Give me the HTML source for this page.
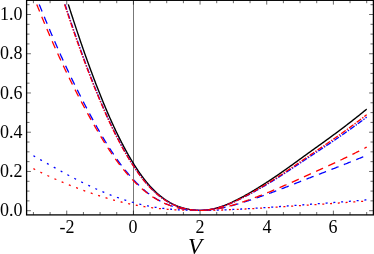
<!DOCTYPE html><html><head><meta charset="utf-8"><style>html,body{margin:0;padding:0;background:#fff}body{width:374px;height:254px;overflow:hidden;position:relative;font-family:"Liberation Serif",serif}svg{position:absolute;left:0;top:0}.t{position:absolute;will-change:transform;font-size:18px;line-height:18px;color:#000;white-space:nowrap}</style></head><body>
<svg width="374" height="254" viewBox="0 0 374 254" fill="none">
<line x1="133.50" y1="0.3" x2="133.50" y2="214.9" stroke="#777" stroke-width="1"/>
<path d="M68.33,4.39 L68.82,5.96 L69.32,7.53 L69.82,9.09 L70.32,10.64 L70.82,12.19 L71.31,13.73 L71.81,15.27 L72.31,16.80 L72.81,18.33 L73.31,19.86 L73.80,21.37 L74.30,22.89 L74.80,24.40 L75.30,25.90 L75.80,27.40 L76.30,28.90 L76.79,30.39 L77.29,31.87 L77.79,33.36 L78.29,34.84 L78.79,36.31 L79.28,37.78 L79.78,39.24 L80.28,40.70 L80.78,42.16 L81.28,43.61 L81.78,45.06 L82.27,46.50 L82.77,47.93 L83.27,49.36 L83.77,50.79 L84.27,52.21 L84.76,53.62 L85.26,55.03 L85.76,56.43 L86.26,57.83 L86.76,59.23 L87.25,60.61 L87.75,61.99 L88.25,63.37 L88.75,64.74 L89.25,66.11 L89.75,67.47 L90.24,68.82 L90.74,70.17 L91.24,71.51 L91.74,72.85 L92.24,74.19 L92.73,75.52 L93.23,76.84 L93.73,78.16 L94.23,79.47 L94.73,80.78 L95.22,82.08 L95.72,83.38 L96.22,84.67 L96.72,85.96 L97.22,87.24 L97.72,88.52 L98.21,89.79 L98.71,91.06 L99.21,92.32 L99.71,93.57 L100.21,94.82 L100.70,96.07 L101.20,97.31 L101.70,98.54 L102.20,99.77 L102.70,100.99 L103.20,102.21 L103.69,103.42 L104.19,104.62 L104.69,105.82 L105.19,107.01 L105.69,108.19 L106.18,109.37 L106.68,110.54 L107.18,111.70 L107.68,112.86 L108.18,114.01 L108.67,115.15 L109.17,116.29 L109.67,117.42 L110.17,118.54 L110.67,119.66 L111.17,120.77 L111.66,121.87 L112.16,122.97 L112.66,124.06 L113.16,125.14 L113.66,126.21 L114.15,127.28 L114.65,128.35 L115.15,129.40 L115.65,130.45 L116.15,131.49 L116.64,132.53 L117.14,133.56 L117.64,134.58 L118.14,135.60 L118.64,136.61 L119.14,137.61 L119.63,138.60 L120.13,139.59 L120.63,140.58 L121.13,141.55 L121.63,142.52 L122.12,143.48 L122.62,144.44 L123.12,145.39 L123.62,146.33 L124.12,147.26 L124.62,148.19 L125.11,149.11 L125.61,150.03 L126.11,150.94 L126.61,151.84 L127.11,152.73 L127.60,153.62 L128.10,154.50 L128.60,155.38 L129.10,156.24 L129.60,157.10 L130.09,157.96 L130.59,158.80 L131.09,159.64 L131.59,160.48 L132.09,161.30 L132.59,162.12 L133.08,162.93 L133.58,163.74 L134.08,164.54 L134.58,165.33 L135.08,166.11 L135.57,166.89 L136.07,167.66 L136.57,168.43 L137.07,169.18 L137.57,169.93 L138.06,170.67 L138.56,171.41 L139.06,172.13 L139.56,172.85 L140.06,173.56 L140.56,174.27 L141.05,174.96 L141.55,175.65 L142.05,176.33 L142.55,177.01 L143.05,177.67 L143.54,178.33 L144.04,178.98 L144.54,179.62 L145.04,180.25 L145.54,180.88 L146.03,181.50 L146.53,182.11 L147.03,182.71 L147.53,183.30 L148.03,183.89 L148.53,184.47 L149.02,185.04 L149.52,185.60 L150.02,186.16 L150.52,186.71 L151.02,187.25 L151.51,187.78 L152.01,188.31 L152.51,188.82 L153.01,189.33 L153.51,189.84 L154.01,190.33 L154.50,190.82 L155.00,191.30 L155.50,191.77 L156.00,192.24 L156.50,192.70 L156.99,193.15 L157.49,193.59 L157.99,194.03 L158.49,194.46 L158.99,194.89 L159.48,195.30 L159.98,195.71 L160.48,196.11 L160.98,196.51 L161.48,196.90 L161.98,197.28 L162.47,197.66 L162.97,198.03 L163.47,198.39 L163.97,198.75 L164.47,199.09 L164.96,199.44 L165.46,199.77 L165.96,200.11 L166.46,200.43 L166.96,200.75 L167.45,201.06 L167.95,201.37 L168.45,201.67 L168.95,201.96 L169.45,202.25 L169.95,202.53 L170.44,202.81 L170.94,203.08 L171.44,203.34 L171.94,203.60 L172.44,203.86 L172.93,204.10 L173.43,204.35 L173.93,204.58 L174.43,204.82 L174.93,205.04 L175.43,205.26 L175.92,205.48 L176.42,205.69 L176.92,205.90 L177.42,206.10 L177.92,206.29 L178.41,206.49 L178.91,206.67 L179.41,206.85 L179.91,207.03 L180.41,207.20 L180.90,207.37 L181.40,207.53 L181.90,207.69 L182.40,207.84 L182.90,207.99 L183.40,208.13 L183.89,208.27 L184.39,208.40 L184.89,208.53 L185.39,208.66 L185.89,208.78 L186.38,208.89 L186.88,209.00 L187.38,209.11 L187.88,209.21 L188.38,209.31 L188.87,209.41 L189.37,209.49 L189.87,209.58 L190.37,209.66 L190.87,209.74 L191.37,209.81 L191.86,209.88 L192.36,209.94 L192.86,210.00 L193.36,210.06 L193.86,210.11 L194.35,210.16 L194.85,210.20 L195.35,210.24 L195.85,210.27 L196.35,210.30 L196.85,210.33 L197.34,210.35 L197.84,210.37 L198.34,210.38 L198.84,210.39 L199.34,210.40 L199.83,210.40 L200.33,210.40 L200.83,210.39 L201.33,210.38 L201.83,210.36 L202.32,210.34 L202.82,210.32 L203.32,210.29 L203.82,210.26 L204.32,210.22 L204.82,210.18 L205.31,210.14 L205.81,210.09 L206.31,210.04 L206.81,209.98 L207.31,209.92 L207.80,209.85 L208.30,209.78 L208.80,209.71 L209.30,209.63 L209.80,209.55 L210.29,209.47 L210.79,209.38 L211.29,209.28 L211.79,209.19 L212.29,209.08 L212.79,208.98 L213.28,208.87 L213.78,208.76 L214.28,208.64 L214.78,208.52 L215.28,208.39 L215.77,208.27 L216.27,208.13 L216.77,208.00 L217.27,207.86 L217.77,207.71 L218.26,207.57 L218.76,207.42 L219.26,207.26 L219.76,207.11 L220.26,206.95 L220.76,206.78 L221.25,206.61 L221.75,206.44 L222.25,206.27 L222.75,206.09 L223.25,205.91 L223.74,205.73 L224.24,205.54 L224.74,205.35 L225.24,205.16 L225.74,204.96 L226.24,204.76 L226.73,204.56 L227.23,204.35 L227.73,204.15 L228.23,203.94 L228.73,203.72 L229.22,203.51 L229.72,203.29 L230.22,203.07 L230.72,202.85 L231.22,202.62 L231.71,202.39 L232.21,202.17 L232.71,201.93 L233.21,201.70 L233.71,201.46 L234.21,201.22 L234.70,200.98 L235.20,200.74 L235.70,200.49 L236.20,200.25 L236.70,200.00 L237.19,199.75 L237.69,199.49 L238.19,199.24 L238.69,198.98 L239.19,198.72 L239.68,198.46 L240.18,198.20 L240.68,197.93 L241.18,197.67 L241.68,197.40 L242.18,197.13 L242.67,196.86 L243.17,196.59 L243.67,196.31 L244.17,196.04 L244.67,195.76 L245.16,195.48 L245.66,195.20 L246.16,194.92 L246.66,194.63 L247.16,194.35 L247.66,194.06 L248.15,193.78 L248.65,193.49 L249.15,193.20 L249.65,192.91 L250.15,192.62 L250.64,192.32 L251.14,192.03 L251.64,191.73 L252.14,191.44 L252.64,191.14 L253.13,190.84 L253.63,190.54 L254.13,190.24 L254.63,189.94 L255.13,189.64 L255.63,189.33 L256.12,189.03 L256.62,188.73 L257.12,188.42 L257.62,188.11 L258.12,187.81 L258.61,187.50 L259.11,187.19 L259.61,186.88 L260.11,186.57 L260.61,186.26 L261.10,185.95 L261.60,185.63 L262.10,185.32 L262.60,185.00 L263.10,184.69 L263.60,184.37 L264.09,184.05 L264.59,183.74 L265.09,183.42 L265.59,183.10 L266.09,182.78 L266.58,182.45 L267.08,182.13 L267.58,181.81 L268.08,181.48 L268.58,181.16 L269.07,180.83 L269.57,180.50 L270.07,180.18 L270.57,179.85 L271.07,179.52 L271.57,179.19 L272.06,178.85 L272.56,178.52 L273.06,178.19 L273.56,177.85 L274.06,177.51 L274.55,177.18 L275.05,176.84 L275.55,176.50 L276.05,176.16 L276.55,175.82 L277.05,175.48 L277.54,175.14 L278.04,174.80 L278.54,174.45 L279.04,174.11 L279.54,173.76 L280.03,173.42 L280.53,173.07 L281.03,172.73 L281.53,172.38 L282.03,172.03 L282.52,171.68 L283.02,171.33 L283.52,170.98 L284.02,170.63 L284.52,170.28 L285.02,169.93 L285.51,169.57 L286.01,169.22 L286.51,168.87 L287.01,168.51 L287.51,168.16 L288.00,167.80 L288.50,167.45 L289.00,167.09 L289.50,166.74 L290.00,166.38 L290.49,166.02 L290.99,165.67 L291.49,165.31 L291.99,164.95 L292.49,164.59 L292.99,164.23 L293.48,163.87 L293.98,163.51 L294.48,163.15 L294.98,162.79 L295.48,162.43 L295.97,162.07 L296.47,161.71 L296.97,161.35 L297.47,160.99 L297.97,160.63 L298.47,160.27 L298.96,159.91 L299.46,159.55 L299.96,159.19 L300.46,158.82 L300.96,158.46 L301.45,158.10 L301.95,157.74 L302.45,157.38 L302.95,157.02 L303.45,156.65 L303.94,156.29 L304.44,155.93 L304.94,155.57 L305.44,155.21 L305.94,154.85 L306.44,154.49 L306.93,154.13 L307.43,153.77 L307.93,153.40 L308.43,153.04 L308.93,152.68 L309.42,152.32 L309.92,151.96 L310.42,151.60 L310.92,151.25 L311.42,150.89 L311.91,150.53 L312.41,150.17 L312.91,149.81 L313.41,149.45 L313.91,149.10 L314.41,148.74 L314.90,148.38 L315.40,148.02 L315.90,147.67 L316.40,147.31 L316.90,146.95 L317.39,146.60 L317.89,146.24 L318.39,145.88 L318.89,145.53 L319.39,145.17 L319.89,144.81 L320.38,144.46 L320.88,144.10 L321.38,143.74 L321.88,143.38 L322.38,143.03 L322.87,142.67 L323.37,142.31 L323.87,141.95 L324.37,141.59 L324.87,141.23 L325.36,140.87 L325.86,140.51 L326.36,140.15 L326.86,139.79 L327.36,139.42 L327.86,139.06 L328.35,138.70 L328.85,138.34 L329.35,137.97 L329.85,137.61 L330.35,137.24 L330.84,136.88 L331.34,136.51 L331.84,136.15 L332.34,135.78 L332.84,135.41 L333.33,135.04 L333.83,134.68 L334.33,134.31 L334.83,133.94 L335.33,133.57 L335.83,133.20 L336.32,132.83 L336.82,132.46 L337.32,132.09 L337.82,131.72 L338.32,131.34 L338.81,130.97 L339.31,130.60 L339.81,130.22 L340.31,129.85 L340.81,129.47 L341.30,129.10 L341.80,128.72 L342.30,128.34 L342.80,127.97 L343.30,127.59 L343.80,127.21 L344.29,126.83 L344.79,126.45 L345.29,126.07 L345.79,125.69 L346.29,125.31 L346.78,124.93 L347.28,124.55 L347.78,124.16 L348.28,123.78 L348.78,123.40 L349.28,123.01 L349.77,122.63 L350.27,122.24 L350.77,121.85 L351.27,121.47 L351.77,121.08 L352.26,120.69 L352.76,120.30 L353.26,119.91 L353.76,119.52 L354.26,119.13 L354.75,118.74 L355.25,118.35 L355.75,117.95 L356.25,117.56 L356.75,117.17 L357.25,116.77 L357.74,116.38 L358.24,115.98 L358.74,115.58 L359.24,115.18 L359.74,114.79 L360.23,114.39 L360.73,113.99 L361.23,113.58 L361.73,113.18 L362.23,112.78 L362.72,112.38 L363.22,111.97 L363.72,111.57 L364.22,111.16 L364.72,110.76 L365.22,110.35 L365.71,109.94 L366.21,109.53 L366.71,109.12" stroke="#000" stroke-width="1.4"/>
<path d="M33.41,155.73 L33.97,156.05 L34.52,156.37 L35.08,156.69 L35.64,157.01 L36.19,157.33 L36.75,157.65 L37.30,157.97 L37.86,158.29 L38.42,158.60 L38.97,158.92 L39.53,159.23 L40.09,159.55 L40.64,159.86 L41.20,160.18 L41.76,160.49 L42.31,160.81 L42.87,161.12 L43.43,161.43 L43.98,161.74 L44.54,162.06 L45.09,162.37 L45.65,162.68 L46.21,162.99 L46.76,163.30 L47.32,163.61 L47.88,163.92 L48.43,164.23 L48.99,164.54 L49.55,164.85 L50.10,165.16 L50.66,165.47 L51.22,165.77 L51.77,166.08 L52.33,166.39 L52.88,166.70 L53.44,167.00 L54.00,167.31 L54.55,167.62 L55.11,167.93 L55.67,168.23 L56.22,168.54 L56.78,168.85 L57.34,169.15 L57.89,169.46 L58.45,169.76 L59.01,170.07 L59.56,170.38 L60.12,170.68 L60.67,170.99 L61.23,171.29 L61.79,171.60 L62.34,171.90 L62.90,172.21 L63.46,172.51 L64.01,172.82 L64.57,173.12 L65.13,173.43 L65.68,173.73 L66.24,174.04 L66.80,174.34 L67.35,174.64 L67.91,174.95 L68.46,175.25 L69.02,175.55 L69.58,175.85 L70.13,176.15 L70.69,176.44 L71.25,176.74 L71.80,177.03 L72.36,177.33 L72.92,177.62 L73.47,177.91 L74.03,178.20 L74.59,178.49 L75.14,178.78 L75.70,179.07 L76.25,179.36 L76.81,179.64 L77.37,179.93 L77.92,180.21 L78.48,180.50 L79.04,180.78 L79.59,181.06 L80.15,181.34 L80.71,181.62 L81.26,181.90 L81.82,182.18 L82.38,182.46 L82.93,182.73 L83.49,183.01 L84.04,183.28 L84.60,183.56 L85.16,183.83 L85.71,184.10 L86.27,184.37 L86.83,184.64 L87.38,184.90 L87.94,185.17 L88.50,185.43 L89.05,185.70 L89.61,185.96 L90.17,186.22 L90.72,186.48 L91.28,186.74 L91.83,187.00 L92.39,187.25 L92.95,187.51 L93.50,187.76 L94.06,188.02 L94.62,188.27 L95.17,188.52 L95.73,188.77 L96.29,189.02 L96.84,189.27 L97.40,189.51 L97.96,189.76 L98.51,190.00 L99.07,190.25 L99.62,190.49 L100.18,190.73 L100.74,190.97 L101.29,191.21 L101.85,191.45 L102.41,191.68 L102.96,191.92 L103.52,192.15 L104.08,192.38 L104.63,192.61 L105.19,192.84 L105.75,193.07 L106.30,193.29 L106.86,193.52 L107.41,193.74 L107.97,193.96 L108.53,194.18 L109.08,194.40 L109.64,194.62 L110.20,194.84 L110.75,195.05 L111.31,195.26 L111.87,195.47 L112.42,195.68 L112.98,195.89 L113.54,196.10 L114.09,196.30 L114.65,196.51 L115.20,196.71 L115.76,196.91 L116.32,197.11 L116.87,197.31 L117.43,197.51 L117.99,197.70 L118.54,197.89 L119.10,198.09 L119.66,198.28 L120.21,198.47 L120.77,198.65 L121.33,198.84 L121.88,199.02 L122.44,199.21 L122.99,199.39 L123.55,199.57 L124.11,199.75 L124.66,199.93 L125.22,200.10 L125.78,200.28 L126.33,200.45 L126.89,200.62 L127.45,200.79 L128.00,200.96 L128.56,201.12 L129.12,201.29 L129.67,201.45 L130.23,201.62 L130.78,201.78 L131.34,201.94 L131.90,202.09 L132.45,202.25 L133.01,202.40 L133.57,202.56 L134.12,202.71 L134.68,202.86 L135.24,203.01 L135.79,203.16 L136.35,203.30 L136.91,203.44 L137.46,203.59 L138.02,203.73 L138.57,203.87 L139.13,204.01 L139.69,204.14 L140.24,204.28 L140.80,204.41 L141.36,204.54 L141.91,204.67 L142.47,204.80 L143.03,204.92 L143.58,205.05 L144.14,205.17 L144.70,205.29 L145.25,205.41 L145.81,205.53 L146.36,205.64 L146.92,205.76 L147.48,205.87 L148.03,205.98 L148.59,206.09 L149.15,206.20 L149.70,206.30 L150.26,206.41 L150.82,206.51 L151.37,206.61 L151.93,206.71 L152.49,206.81 L153.04,206.91 L153.60,207.00 L154.15,207.09 L154.71,207.18 L155.27,207.27 L155.82,207.36 L156.38,207.45 L156.94,207.53 L157.49,207.62 L158.05,207.70 L158.61,207.78 L159.16,207.86 L159.72,207.94 L160.28,208.01 L160.83,208.09 L161.39,208.16 L161.94,208.23 L162.50,208.30 L163.06,208.37 L163.61,208.44 L164.17,208.51 L164.73,208.57 L165.28,208.63 L165.84,208.70 L166.40,208.76 L166.95,208.82 L167.51,208.87 L168.07,208.93 L168.62,208.99 L169.18,209.04 L169.73,209.09 L170.29,209.15 L170.85,209.20 L171.40,209.25 L171.96,209.29 L172.52,209.34 L173.07,209.39 L173.63,209.43 L174.19,209.47 L174.74,209.52 L175.30,209.56 L175.86,209.60 L176.41,209.64 L176.97,209.67 L177.52,209.71 L178.08,209.75 L178.64,209.78 L179.19,209.82 L179.75,209.85 L180.31,209.88 L180.86,209.91 L181.42,209.94 L181.98,209.97 L182.53,210.00 L183.09,210.02 L183.65,210.05 L184.20,210.07 L184.76,210.10 L185.31,210.12 L185.87,210.14 L186.43,210.16 L186.98,210.18 L187.54,210.20 L188.10,210.22 L188.65,210.24 L189.21,210.25 L189.77,210.27 L190.32,210.28 L190.88,210.30 L191.44,210.31 L191.99,210.32 L192.55,210.33 L193.10,210.34 L193.66,210.35 L194.22,210.36 L194.77,210.37 L195.33,210.38 L195.89,210.38 L196.44,210.39 L197.00,210.39 L197.56,210.39 L198.11,210.40 L198.67,210.40 L199.23,210.40 L199.78,210.40 L200.34,210.40 L200.89,210.40 L201.45,210.40 L202.01,210.39 L202.56,210.39 L203.12,210.39 L203.68,210.38 L204.23,210.38 L204.79,210.37 L205.35,210.37 L205.90,210.36 L206.46,210.35 L207.02,210.34 L207.57,210.34 L208.13,210.33 L208.68,210.32 L209.24,210.31 L209.80,210.30 L210.35,210.29 L210.91,210.27 L211.47,210.26 L212.02,210.25 L212.58,210.24 L213.14,210.22 L213.69,210.21 L214.25,210.20 L214.81,210.18 L215.36,210.17 L215.92,210.15 L216.47,210.13 L217.03,210.12 L217.59,210.10 L218.14,210.08 L218.70,210.06 L219.26,210.04 L219.81,210.02 L220.37,210.00 L220.93,209.98 L221.48,209.96 L222.04,209.94 L222.60,209.92 L223.15,209.90 L223.71,209.88 L224.26,209.86 L224.82,209.83 L225.38,209.81 L225.93,209.79 L226.49,209.76 L227.05,209.74 L227.60,209.71 L228.16,209.69 L228.72,209.66 L229.27,209.64 L229.83,209.61 L230.39,209.59 L230.94,209.56 L231.50,209.54 L232.05,209.51 L232.61,209.48 L233.17,209.46 L233.72,209.43 L234.28,209.40 L234.84,209.37 L235.39,209.34 L235.95,209.32 L236.51,209.29 L237.06,209.26 L237.62,209.23 L238.18,209.20 L238.73,209.17 L239.29,209.14 L239.84,209.11 L240.40,209.08 L240.96,209.05 L241.51,209.02 L242.07,208.99 L242.63,208.96 L243.18,208.93 L243.74,208.89 L244.30,208.86 L244.85,208.83 L245.41,208.80 L245.97,208.77 L246.52,208.73 L247.08,208.70 L247.63,208.67 L248.19,208.63 L248.75,208.60 L249.30,208.57 L249.86,208.53 L250.42,208.50 L250.97,208.46 L251.53,208.43 L252.09,208.39 L252.64,208.36 L253.20,208.32 L253.76,208.29 L254.31,208.25 L254.87,208.22 L255.42,208.18 L255.98,208.15 L256.54,208.11 L257.09,208.08 L257.65,208.04 L258.21,208.01 L258.76,207.97 L259.32,207.93 L259.88,207.90 L260.43,207.86 L260.99,207.83 L261.55,207.79 L262.10,207.75 L262.66,207.72 L263.21,207.68 L263.77,207.64 L264.33,207.60 L264.88,207.57 L265.44,207.53 L266.00,207.49 L266.55,207.46 L267.11,207.42 L267.67,207.38 L268.22,207.34 L268.78,207.31 L269.34,207.27 L269.89,207.23 L270.45,207.19 L271.00,207.15 L271.56,207.11 L272.12,207.08 L272.67,207.04 L273.23,207.00 L273.79,206.96 L274.34,206.92 L274.90,206.88 L275.46,206.84 L276.01,206.80 L276.57,206.76 L277.13,206.72 L277.68,206.68 L278.24,206.64 L278.79,206.60 L279.35,206.56 L279.91,206.52 L280.46,206.48 L281.02,206.44 L281.58,206.40 L282.13,206.36 L282.69,206.32 L283.25,206.28 L283.80,206.24 L284.36,206.20 L284.92,206.16 L285.47,206.12 L286.03,206.08 L286.58,206.04 L287.14,206.00 L287.70,205.96 L288.25,205.92 L288.81,205.87 L289.37,205.83 L289.92,205.79 L290.48,205.75 L291.04,205.71 L291.59,205.67 L292.15,205.63 L292.71,205.59 L293.26,205.54 L293.82,205.50 L294.37,205.46 L294.93,205.42 L295.49,205.38 L296.04,205.34 L296.60,205.30 L297.16,205.25 L297.71,205.21 L298.27,205.17 L298.83,205.13 L299.38,205.09 L299.94,205.05 L300.50,205.00 L301.05,204.96 L301.61,204.92 L302.16,204.88 L302.72,204.84 L303.28,204.80 L303.83,204.75 L304.39,204.71 L304.95,204.67 L305.50,204.63 L306.06,204.59 L306.62,204.55 L307.17,204.50 L307.73,204.46 L308.29,204.42 L308.84,204.38 L309.40,204.34 L309.95,204.30 L310.51,204.25 L311.07,204.21 L311.62,204.17 L312.18,204.13 L312.74,204.09 L313.29,204.05 L313.85,204.01 L314.41,203.97 L314.96,203.92 L315.52,203.88 L316.08,203.84 L316.63,203.80 L317.19,203.76 L317.74,203.72 L318.30,203.68 L318.86,203.64 L319.41,203.60 L319.97,203.55 L320.53,203.51 L321.08,203.47 L321.64,203.43 L322.20,203.39 L322.75,203.35 L323.31,203.31 L323.87,203.27 L324.42,203.22 L324.98,203.18 L325.53,203.14 L326.09,203.10 L326.65,203.06 L327.20,203.02 L327.76,202.97 L328.32,202.93 L328.87,202.89 L329.43,202.85 L329.99,202.81 L330.54,202.77 L331.10,202.72 L331.66,202.68 L332.21,202.64 L332.77,202.60 L333.32,202.55 L333.88,202.51 L334.44,202.47 L334.99,202.43 L335.55,202.38 L336.11,202.34 L336.66,202.30 L337.22,202.26 L337.78,202.21 L338.33,202.17 L338.89,202.13 L339.45,202.08 L340.00,202.04 L340.56,202.00 L341.11,201.95 L341.67,201.91 L342.23,201.87 L342.78,201.82 L343.34,201.78 L343.90,201.74 L344.45,201.69 L345.01,201.65 L345.57,201.60 L346.12,201.56 L346.68,201.52 L347.24,201.47 L347.79,201.43 L348.35,201.38 L348.90,201.34 L349.46,201.29 L350.02,201.25 L350.57,201.20 L351.13,201.16 L351.69,201.11 L352.24,201.07 L352.80,201.02 L353.36,200.98 L353.91,200.93 L354.47,200.89 L355.03,200.84 L355.58,200.80 L356.14,200.75 L356.69,200.71 L357.25,200.66 L357.81,200.62 L358.36,200.57 L358.92,200.52 L359.48,200.48 L360.03,200.43 L360.59,200.38 L361.15,200.34 L361.70,200.29 L362.26,200.24 L362.82,200.20 L363.37,200.15 L363.93,200.10 L364.48,200.06 L365.04,200.01 L365.60,199.96 L366.15,199.91 L366.71,199.87" stroke="#00f" stroke-width="1.3" stroke-dasharray="2 5.79" stroke-dashoffset="0"/>
<path d="M33.41,168.65 L33.97,168.93 L34.52,169.22 L35.08,169.50 L35.64,169.78 L36.19,170.06 L36.75,170.34 L37.30,170.62 L37.86,170.90 L38.42,171.18 L38.97,171.45 L39.53,171.73 L40.09,172.00 L40.64,172.27 L41.20,172.55 L41.76,172.82 L42.31,173.09 L42.87,173.36 L43.43,173.62 L43.98,173.89 L44.54,174.16 L45.09,174.42 L45.65,174.69 L46.21,174.95 L46.76,175.21 L47.32,175.48 L47.88,175.74 L48.43,176.00 L48.99,176.25 L49.55,176.51 L50.10,176.77 L50.66,177.02 L51.22,177.28 L51.77,177.53 L52.33,177.78 L52.88,178.04 L53.44,178.29 L54.00,178.54 L54.55,178.78 L55.11,179.03 L55.67,179.28 L56.22,179.52 L56.78,179.77 L57.34,180.01 L57.89,180.25 L58.45,180.50 L59.01,180.74 L59.56,180.98 L60.12,181.22 L60.67,181.45 L61.23,181.69 L61.79,181.93 L62.34,182.16 L62.90,182.39 L63.46,182.63 L64.01,182.86 L64.57,183.09 L65.13,183.32 L65.68,183.55 L66.24,183.78 L66.80,184.00 L67.35,184.23 L67.91,184.46 L68.46,184.68 L69.02,184.90 L69.58,185.13 L70.13,185.35 L70.69,185.57 L71.25,185.79 L71.80,186.01 L72.36,186.22 L72.92,186.44 L73.47,186.66 L74.03,186.87 L74.59,187.09 L75.14,187.30 L75.70,187.52 L76.25,187.73 L76.81,187.94 L77.37,188.15 L77.92,188.36 L78.48,188.57 L79.04,188.78 L79.59,188.99 L80.15,189.20 L80.71,189.40 L81.26,189.61 L81.82,189.82 L82.38,190.02 L82.93,190.22 L83.49,190.43 L84.04,190.63 L84.60,190.83 L85.16,191.03 L85.71,191.23 L86.27,191.42 L86.83,191.62 L87.38,191.82 L87.94,192.01 L88.50,192.21 L89.05,192.40 L89.61,192.59 L90.17,192.79 L90.72,192.98 L91.28,193.17 L91.83,193.36 L92.39,193.54 L92.95,193.73 L93.50,193.92 L94.06,194.10 L94.62,194.29 L95.17,194.47 L95.73,194.66 L96.29,194.84 L96.84,195.02 L97.40,195.20 L97.96,195.38 L98.51,195.56 L99.07,195.74 L99.62,195.91 L100.18,196.09 L100.74,196.26 L101.29,196.44 L101.85,196.61 L102.41,196.78 L102.96,196.96 L103.52,197.13 L104.08,197.30 L104.63,197.46 L105.19,197.63 L105.75,197.80 L106.30,197.96 L106.86,198.13 L107.41,198.29 L107.97,198.45 L108.53,198.61 L109.08,198.77 L109.64,198.93 L110.20,199.09 L110.75,199.24 L111.31,199.40 L111.87,199.55 L112.42,199.70 L112.98,199.86 L113.54,200.01 L114.09,200.16 L114.65,200.31 L115.20,200.45 L115.76,200.60 L116.32,200.74 L116.87,200.89 L117.43,201.03 L117.99,201.17 L118.54,201.31 L119.10,201.45 L119.66,201.59 L120.21,201.73 L120.77,201.87 L121.33,202.00 L121.88,202.14 L122.44,202.27 L122.99,202.40 L123.55,202.53 L124.11,202.66 L124.66,202.79 L125.22,202.92 L125.78,203.05 L126.33,203.17 L126.89,203.30 L127.45,203.42 L128.00,203.54 L128.56,203.66 L129.12,203.78 L129.67,203.90 L130.23,204.02 L130.78,204.14 L131.34,204.25 L131.90,204.37 L132.45,204.48 L133.01,204.59 L133.57,204.71 L134.12,204.82 L134.68,204.92 L135.24,205.03 L135.79,205.14 L136.35,205.24 L136.91,205.35 L137.46,205.45 L138.02,205.55 L138.57,205.66 L139.13,205.76 L139.69,205.85 L140.24,205.95 L140.80,206.05 L141.36,206.14 L141.91,206.24 L142.47,206.33 L143.03,206.42 L143.58,206.51 L144.14,206.60 L144.70,206.69 L145.25,206.77 L145.81,206.86 L146.36,206.94 L146.92,207.03 L147.48,207.11 L148.03,207.19 L148.59,207.27 L149.15,207.34 L149.70,207.42 L150.26,207.50 L150.82,207.57 L151.37,207.64 L151.93,207.72 L152.49,207.79 L153.04,207.86 L153.60,207.93 L154.15,207.99 L154.71,208.06 L155.27,208.12 L155.82,208.19 L156.38,208.25 L156.94,208.31 L157.49,208.37 L158.05,208.43 L158.61,208.49 L159.16,208.55 L159.72,208.60 L160.28,208.66 L160.83,208.71 L161.39,208.77 L161.94,208.82 L162.50,208.87 L163.06,208.92 L163.61,208.97 L164.17,209.02 L164.73,209.06 L165.28,209.11 L165.84,209.15 L166.40,209.20 L166.95,209.24 L167.51,209.28 L168.07,209.33 L168.62,209.37 L169.18,209.41 L169.73,209.44 L170.29,209.48 L170.85,209.52 L171.40,209.55 L171.96,209.59 L172.52,209.62 L173.07,209.66 L173.63,209.69 L174.19,209.72 L174.74,209.75 L175.30,209.78 L175.86,209.81 L176.41,209.84 L176.97,209.87 L177.52,209.89 L178.08,209.92 L178.64,209.95 L179.19,209.97 L179.75,209.99 L180.31,210.02 L180.86,210.04 L181.42,210.06 L181.98,210.08 L182.53,210.10 L183.09,210.12 L183.65,210.14 L184.20,210.16 L184.76,210.18 L185.31,210.19 L185.87,210.21 L186.43,210.22 L186.98,210.24 L187.54,210.25 L188.10,210.27 L188.65,210.28 L189.21,210.29 L189.77,210.30 L190.32,210.31 L190.88,210.32 L191.44,210.33 L191.99,210.34 L192.55,210.35 L193.10,210.36 L193.66,210.36 L194.22,210.37 L194.77,210.38 L195.33,210.38 L195.89,210.39 L196.44,210.39 L197.00,210.39 L197.56,210.40 L198.11,210.40 L198.67,210.40 L199.23,210.40 L199.78,210.40 L200.34,210.40 L200.89,210.40 L201.45,210.40 L202.01,210.40 L202.56,210.39 L203.12,210.39 L203.68,210.39 L204.23,210.38 L204.79,210.38 L205.35,210.37 L205.90,210.37 L206.46,210.36 L207.02,210.35 L207.57,210.35 L208.13,210.34 L208.68,210.33 L209.24,210.32 L209.80,210.31 L210.35,210.30 L210.91,210.30 L211.47,210.28 L212.02,210.27 L212.58,210.26 L213.14,210.25 L213.69,210.24 L214.25,210.23 L214.81,210.21 L215.36,210.20 L215.92,210.19 L216.47,210.17 L217.03,210.16 L217.59,210.14 L218.14,210.13 L218.70,210.11 L219.26,210.09 L219.81,210.08 L220.37,210.06 L220.93,210.04 L221.48,210.03 L222.04,210.01 L222.60,209.99 L223.15,209.97 L223.71,209.95 L224.26,209.93 L224.82,209.91 L225.38,209.89 L225.93,209.87 L226.49,209.85 L227.05,209.83 L227.60,209.81 L228.16,209.79 L228.72,209.76 L229.27,209.74 L229.83,209.72 L230.39,209.70 L230.94,209.67 L231.50,209.65 L232.05,209.63 L232.61,209.60 L233.17,209.58 L233.72,209.56 L234.28,209.53 L234.84,209.51 L235.39,209.48 L235.95,209.46 L236.51,209.43 L237.06,209.41 L237.62,209.38 L238.18,209.35 L238.73,209.33 L239.29,209.30 L239.84,209.27 L240.40,209.25 L240.96,209.22 L241.51,209.19 L242.07,209.17 L242.63,209.14 L243.18,209.11 L243.74,209.08 L244.30,209.05 L244.85,209.03 L245.41,209.00 L245.97,208.97 L246.52,208.94 L247.08,208.91 L247.63,208.88 L248.19,208.85 L248.75,208.82 L249.30,208.79 L249.86,208.76 L250.42,208.73 L250.97,208.70 L251.53,208.67 L252.09,208.64 L252.64,208.61 L253.20,208.58 L253.76,208.55 L254.31,208.51 L254.87,208.48 L255.42,208.45 L255.98,208.42 L256.54,208.39 L257.09,208.36 L257.65,208.33 L258.21,208.29 L258.76,208.26 L259.32,208.23 L259.88,208.20 L260.43,208.16 L260.99,208.13 L261.55,208.10 L262.10,208.07 L262.66,208.03 L263.21,208.00 L263.77,207.97 L264.33,207.94 L264.88,207.90 L265.44,207.87 L266.00,207.84 L266.55,207.80 L267.11,207.77 L267.67,207.74 L268.22,207.70 L268.78,207.67 L269.34,207.63 L269.89,207.60 L270.45,207.57 L271.00,207.53 L271.56,207.50 L272.12,207.46 L272.67,207.43 L273.23,207.39 L273.79,207.36 L274.34,207.32 L274.90,207.29 L275.46,207.25 L276.01,207.22 L276.57,207.18 L277.13,207.15 L277.68,207.11 L278.24,207.08 L278.79,207.04 L279.35,207.00 L279.91,206.97 L280.46,206.93 L281.02,206.90 L281.58,206.86 L282.13,206.82 L282.69,206.79 L283.25,206.75 L283.80,206.72 L284.36,206.68 L284.92,206.64 L285.47,206.61 L286.03,206.57 L286.58,206.53 L287.14,206.50 L287.70,206.46 L288.25,206.42 L288.81,206.39 L289.37,206.35 L289.92,206.31 L290.48,206.27 L291.04,206.24 L291.59,206.20 L292.15,206.16 L292.71,206.13 L293.26,206.09 L293.82,206.05 L294.37,206.01 L294.93,205.98 L295.49,205.94 L296.04,205.90 L296.60,205.86 L297.16,205.83 L297.71,205.79 L298.27,205.75 L298.83,205.71 L299.38,205.68 L299.94,205.64 L300.50,205.60 L301.05,205.56 L301.61,205.53 L302.16,205.49 L302.72,205.45 L303.28,205.41 L303.83,205.38 L304.39,205.34 L304.95,205.30 L305.50,205.26 L306.06,205.23 L306.62,205.19 L307.17,205.15 L307.73,205.11 L308.29,205.08 L308.84,205.04 L309.40,205.00 L309.95,204.96 L310.51,204.93 L311.07,204.89 L311.62,204.85 L312.18,204.81 L312.74,204.78 L313.29,204.74 L313.85,204.70 L314.41,204.67 L314.96,204.63 L315.52,204.59 L316.08,204.55 L316.63,204.52 L317.19,204.48 L317.74,204.44 L318.30,204.41 L318.86,204.37 L319.41,204.33 L319.97,204.29 L320.53,204.26 L321.08,204.22 L321.64,204.18 L322.20,204.15 L322.75,204.11 L323.31,204.07 L323.87,204.03 L324.42,204.00 L324.98,203.96 L325.53,203.92 L326.09,203.88 L326.65,203.85 L327.20,203.81 L327.76,203.77 L328.32,203.73 L328.87,203.70 L329.43,203.66 L329.99,203.62 L330.54,203.58 L331.10,203.55 L331.66,203.51 L332.21,203.47 L332.77,203.43 L333.32,203.39 L333.88,203.35 L334.44,203.32 L334.99,203.28 L335.55,203.24 L336.11,203.20 L336.66,203.16 L337.22,203.12 L337.78,203.09 L338.33,203.05 L338.89,203.01 L339.45,202.97 L340.00,202.93 L340.56,202.89 L341.11,202.85 L341.67,202.81 L342.23,202.77 L342.78,202.73 L343.34,202.70 L343.90,202.66 L344.45,202.62 L345.01,202.58 L345.57,202.54 L346.12,202.50 L346.68,202.46 L347.24,202.42 L347.79,202.38 L348.35,202.34 L348.90,202.30 L349.46,202.26 L350.02,202.22 L350.57,202.18 L351.13,202.14 L351.69,202.10 L352.24,202.06 L352.80,202.02 L353.36,201.98 L353.91,201.94 L354.47,201.90 L355.03,201.86 L355.58,201.81 L356.14,201.77 L356.69,201.73 L357.25,201.69 L357.81,201.65 L358.36,201.61 L358.92,201.57 L359.48,201.53 L360.03,201.49 L360.59,201.44 L361.15,201.40 L361.70,201.36 L362.26,201.32 L362.82,201.28 L363.37,201.24 L363.93,201.19 L364.48,201.15 L365.04,201.11 L365.60,201.07 L366.15,201.02 L366.71,200.98" stroke="#f00" stroke-width="1.3" stroke-dasharray="2 5.79" stroke-dashoffset="0"/>
<path d="M39.21,4.39 L39.76,5.75 L40.31,7.11 L40.85,8.46 L41.40,9.81 L41.95,11.16 L42.49,12.50 L43.04,13.84 L43.59,15.18 L44.13,16.51 L44.68,17.84 L45.23,19.16 L45.77,20.48 L46.32,21.80 L46.87,23.11 L47.41,24.42 L47.96,25.72 L48.51,27.03 L49.05,28.32 L49.60,29.62 L50.15,30.91 L50.69,32.19 L51.24,33.47 L51.79,34.75 L52.33,36.03 L52.88,37.30 L53.43,38.56 L53.97,39.83 L54.52,41.09 L55.07,42.34 L55.61,43.59 L56.16,44.84 L56.71,46.09 L57.25,47.33 L57.80,48.56 L58.35,49.80 L58.89,51.02 L59.44,52.25 L59.99,53.47 L60.53,54.69 L61.08,55.90 L61.63,57.11 L62.18,58.31 L62.72,59.51 L63.27,60.71 L63.82,61.90 L64.36,63.08 L64.91,64.26 L65.46,65.44 L66.00,66.61 L66.55,67.78 L67.10,68.95 L67.64,70.10 L68.19,71.26 L68.74,72.41 L69.28,73.56 L69.83,74.70 L70.38,75.84 L70.92,76.97 L71.47,78.10 L72.02,79.23 L72.56,80.35 L73.11,81.47 L73.66,82.59 L74.20,83.70 L74.75,84.81 L75.30,85.92 L75.84,87.02 L76.39,88.12 L76.94,89.22 L77.48,90.31 L78.03,91.40 L78.58,92.49 L79.12,93.58 L79.67,94.66 L80.22,95.74 L80.76,96.82 L81.31,97.89 L81.86,98.96 L82.40,100.02 L82.95,101.08 L83.50,102.14 L84.04,103.20 L84.59,104.25 L85.14,105.30 L85.68,106.34 L86.23,107.38 L86.78,108.42 L87.33,109.46 L87.87,110.49 L88.42,111.52 L88.97,112.55 L89.51,113.57 L90.06,114.59 L90.61,115.60 L91.15,116.61 L91.70,117.62 L92.25,118.63 L92.79,119.63 L93.34,120.62 L93.89,121.62 L94.43,122.60 L94.98,123.59 L95.53,124.57 L96.07,125.55 L96.62,126.52 L97.17,127.49 L97.71,128.46 L98.26,129.42 L98.81,130.38 L99.35,131.33 L99.90,132.28 L100.45,133.22 L100.99,134.16 L101.54,135.10 L102.09,136.03 L102.63,136.96 L103.18,137.88 L103.73,138.79 L104.27,139.70 L104.82,140.61 L105.37,141.51 L105.91,142.40 L106.46,143.29 L107.01,144.17 L107.55,145.04 L108.10,145.91 L108.65,146.78 L109.19,147.64 L109.74,148.49 L110.29,149.34 L110.84,150.18 L111.38,151.01 L111.93,151.84 L112.48,152.66 L113.02,153.48 L113.57,154.29 L114.12,155.10 L114.66,155.89 L115.21,156.69 L115.76,157.47 L116.30,158.26 L116.85,159.03 L117.40,159.80 L117.94,160.56 L118.49,161.32 L119.04,162.07 L119.58,162.82 L120.13,163.56 L120.68,164.29 L121.22,165.02 L121.77,165.74 L122.32,166.45 L122.86,167.16 L123.41,167.87 L123.96,168.56 L124.50,169.25 L125.05,169.94 L125.60,170.62 L126.14,171.29 L126.69,171.96 L127.24,172.62 L127.78,173.27 L128.33,173.92 L128.88,174.56 L129.42,175.20 L129.97,175.83 L130.52,176.45 L131.06,177.07 L131.61,177.69 L132.16,178.29 L132.70,178.89 L133.25,179.49 L133.80,180.07 L134.34,180.66 L134.89,181.23 L135.44,181.80 L135.99,182.37 L136.53,182.92 L137.08,183.48 L137.63,184.02 L138.17,184.56 L138.72,185.10 L139.27,185.62 L139.81,186.14 L140.36,186.66 L140.91,187.17 L141.45,187.67 L142.00,188.16 L142.55,188.65 L143.09,189.13 L143.64,189.61 L144.19,190.08 L144.73,190.54 L145.28,191.00 L145.83,191.45 L146.37,191.89 L146.92,192.33 L147.47,192.76 L148.01,193.19 L148.56,193.60 L149.11,194.02 L149.65,194.42 L150.20,194.82 L150.75,195.21 L151.29,195.60 L151.84,195.98 L152.39,196.36 L152.93,196.72 L153.48,197.09 L154.03,197.44 L154.57,197.79 L155.12,198.14 L155.67,198.48 L156.21,198.81 L156.76,199.14 L157.31,199.46 L157.85,199.77 L158.40,200.08 L158.95,200.39 L159.50,200.69 L160.04,200.98 L160.59,201.27 L161.14,201.55 L161.68,201.82 L162.23,202.10 L162.78,202.36 L163.32,202.62 L163.87,202.88 L164.42,203.13 L164.96,203.37 L165.51,203.61 L166.06,203.85 L166.60,204.08 L167.15,204.30 L167.70,204.52 L168.24,204.74 L168.79,204.95 L169.34,205.15 L169.88,205.36 L170.43,205.55 L170.98,205.74 L171.52,205.93 L172.07,206.11 L172.62,206.29 L173.16,206.47 L173.71,206.64 L174.26,206.80 L174.80,206.96 L175.35,207.12 L175.90,207.27 L176.44,207.42 L176.99,207.57 L177.54,207.71 L178.08,207.84 L178.63,207.98 L179.18,208.11 L179.72,208.23 L180.27,208.35 L180.82,208.47 L181.36,208.58 L181.91,208.69 L182.46,208.80 L183.00,208.90 L183.55,209.00 L184.10,209.10 L184.65,209.19 L185.19,209.28 L185.74,209.36 L186.29,209.44 L186.83,209.52 L187.38,209.59 L187.93,209.66 L188.47,209.73 L189.02,209.80 L189.57,209.86 L190.11,209.91 L190.66,209.97 L191.21,210.02 L191.75,210.07 L192.30,210.11 L192.85,210.15 L193.39,210.19 L193.94,210.22 L194.49,210.26 L195.03,210.28 L195.58,210.31 L196.13,210.33 L196.67,210.35 L197.22,210.37 L197.77,210.38 L198.31,210.39 L198.86,210.40 L199.41,210.40 L199.95,210.40 L200.50,210.40 L201.05,210.39 L201.59,210.38 L202.14,210.37 L202.69,210.36 L203.23,210.34 L203.78,210.32 L204.33,210.29 L204.87,210.26 L205.42,210.23 L205.97,210.20 L206.51,210.16 L207.06,210.13 L207.61,210.08 L208.16,210.04 L208.70,209.99 L209.25,209.94 L209.80,209.89 L210.34,209.83 L210.89,209.77 L211.44,209.71 L211.98,209.64 L212.53,209.57 L213.08,209.50 L213.62,209.43 L214.17,209.35 L214.72,209.27 L215.26,209.19 L215.81,209.11 L216.36,209.02 L216.90,208.93 L217.45,208.84 L218.00,208.75 L218.54,208.65 L219.09,208.55 L219.64,208.45 L220.18,208.34 L220.73,208.24 L221.28,208.13 L221.82,208.02 L222.37,207.90 L222.92,207.79 L223.46,207.67 L224.01,207.55 L224.56,207.43 L225.10,207.31 L225.65,207.18 L226.20,207.05 L226.74,206.92 L227.29,206.79 L227.84,206.66 L228.38,206.53 L228.93,206.39 L229.48,206.25 L230.02,206.11 L230.57,205.97 L231.12,205.83 L231.66,205.68 L232.21,205.54 L232.76,205.39 L233.31,205.24 L233.85,205.09 L234.40,204.94 L234.95,204.78 L235.49,204.63 L236.04,204.47 L236.59,204.32 L237.13,204.16 L237.68,204.00 L238.23,203.84 L238.77,203.68 L239.32,203.51 L239.87,203.35 L240.41,203.18 L240.96,203.02 L241.51,202.85 L242.05,202.68 L242.60,202.51 L243.15,202.34 L243.69,202.17 L244.24,202.00 L244.79,201.82 L245.33,201.65 L245.88,201.48 L246.43,201.30 L246.97,201.12 L247.52,200.95 L248.07,200.77 L248.61,200.59 L249.16,200.41 L249.71,200.23 L250.25,200.05 L250.80,199.87 L251.35,199.68 L251.89,199.50 L252.44,199.32 L252.99,199.14 L253.53,198.95 L254.08,198.77 L254.63,198.58 L255.17,198.40 L255.72,198.21 L256.27,198.02 L256.81,197.84 L257.36,197.65 L257.91,197.46 L258.46,197.27 L259.00,197.08 L259.55,196.89 L260.10,196.70 L260.64,196.51 L261.19,196.32 L261.74,196.13 L262.28,195.94 L262.83,195.75 L263.38,195.55 L263.92,195.36 L264.47,195.17 L265.02,194.97 L265.56,194.78 L266.11,194.58 L266.66,194.39 L267.20,194.19 L267.75,193.99 L268.30,193.80 L268.84,193.60 L269.39,193.40 L269.94,193.20 L270.48,193.00 L271.03,192.80 L271.58,192.60 L272.12,192.40 L272.67,192.20 L273.22,192.00 L273.76,191.79 L274.31,191.59 L274.86,191.38 L275.40,191.18 L275.95,190.97 L276.50,190.77 L277.04,190.56 L277.59,190.36 L278.14,190.15 L278.68,189.94 L279.23,189.74 L279.78,189.53 L280.32,189.32 L280.87,189.11 L281.42,188.90 L281.97,188.69 L282.51,188.48 L283.06,188.27 L283.61,188.06 L284.15,187.85 L284.70,187.64 L285.25,187.43 L285.79,187.21 L286.34,187.00 L286.89,186.79 L287.43,186.58 L287.98,186.36 L288.53,186.15 L289.07,185.94 L289.62,185.72 L290.17,185.51 L290.71,185.30 L291.26,185.08 L291.81,184.87 L292.35,184.65 L292.90,184.44 L293.45,184.23 L293.99,184.01 L294.54,183.80 L295.09,183.58 L295.63,183.37 L296.18,183.15 L296.73,182.94 L297.27,182.72 L297.82,182.51 L298.37,182.29 L298.91,182.08 L299.46,181.86 L300.01,181.65 L300.55,181.43 L301.10,181.22 L301.65,181.00 L302.19,180.79 L302.74,180.57 L303.29,180.36 L303.83,180.15 L304.38,179.93 L304.93,179.72 L305.47,179.50 L306.02,179.29 L306.57,179.07 L307.12,178.86 L307.66,178.65 L308.21,178.43 L308.76,178.22 L309.30,178.01 L309.85,177.79 L310.40,177.58 L310.94,177.37 L311.49,177.16 L312.04,176.94 L312.58,176.73 L313.13,176.52 L313.68,176.31 L314.22,176.10 L314.77,175.89 L315.32,175.68 L315.86,175.47 L316.41,175.26 L316.96,175.05 L317.50,174.84 L318.05,174.63 L318.60,174.42 L319.14,174.21 L319.69,174.00 L320.24,173.79 L320.78,173.58 L321.33,173.37 L321.88,173.16 L322.42,172.95 L322.97,172.74 L323.52,172.53 L324.06,172.32 L324.61,172.11 L325.16,171.90 L325.70,171.68 L326.25,171.47 L326.80,171.26 L327.34,171.05 L327.89,170.84 L328.44,170.63 L328.98,170.42 L329.53,170.20 L330.08,169.99 L330.63,169.78 L331.17,169.57 L331.72,169.36 L332.27,169.14 L332.81,168.93 L333.36,168.72 L333.91,168.51 L334.45,168.29 L335.00,168.08 L335.55,167.87 L336.09,167.65 L336.64,167.44 L337.19,167.22 L337.73,167.01 L338.28,166.80 L338.83,166.58 L339.37,166.37 L339.92,166.15 L340.47,165.94 L341.01,165.72 L341.56,165.51 L342.11,165.29 L342.65,165.07 L343.20,164.86 L343.75,164.64 L344.29,164.42 L344.84,164.21 L345.39,163.99 L345.93,163.77 L346.48,163.55 L347.03,163.34 L347.57,163.12 L348.12,162.90 L348.67,162.68 L349.21,162.46 L349.76,162.24 L350.31,162.02 L350.85,161.80 L351.40,161.58 L351.95,161.36 L352.49,161.14 L353.04,160.92 L353.59,160.70 L354.13,160.48 L354.68,160.26 L355.23,160.04 L355.78,159.82 L356.32,159.59 L356.87,159.37 L357.42,159.15 L357.96,158.92 L358.51,158.70 L359.06,158.48 L359.60,158.25 L360.15,158.03 L360.70,157.80 L361.24,157.58 L361.79,157.35 L362.34,157.13 L362.88,156.90 L363.43,156.67 L363.98,156.45 L364.52,156.22 L365.07,155.99 L365.62,155.76 L366.16,155.53 L366.71,155.31" stroke="#00f" stroke-width="1.3" stroke-dasharray="7.6 5.75" stroke-dashoffset="0"/>
<path d="M36.74,4.39 L37.29,5.76 L37.84,7.13 L38.39,8.49 L38.94,9.85 L39.49,11.20 L40.05,12.55 L40.60,13.90 L41.15,15.24 L41.70,16.58 L42.25,17.91 L42.80,19.24 L43.35,20.57 L43.90,21.89 L44.45,23.20 L45.00,24.52 L45.55,25.82 L46.11,27.13 L46.66,28.43 L47.21,29.72 L47.76,31.02 L48.31,32.30 L48.86,33.59 L49.41,34.87 L49.96,36.14 L50.51,37.41 L51.06,38.68 L51.61,39.94 L52.16,41.19 L52.72,42.45 L53.27,43.70 L53.82,44.94 L54.37,46.18 L54.92,47.42 L55.47,48.65 L56.02,49.88 L56.57,51.10 L57.12,52.32 L57.67,53.54 L58.22,54.75 L58.78,55.96 L59.33,57.16 L59.88,58.36 L60.43,59.55 L60.98,60.74 L61.53,61.93 L62.08,63.11 L62.63,64.29 L63.18,65.46 L63.73,66.63 L64.28,67.79 L64.83,68.95 L65.39,70.10 L65.94,71.25 L66.49,72.39 L67.04,73.53 L67.59,74.67 L68.14,75.80 L68.69,76.93 L69.24,78.05 L69.79,79.17 L70.34,80.28 L70.89,81.39 L71.45,82.50 L72.00,83.60 L72.55,84.70 L73.10,85.80 L73.65,86.89 L74.20,87.97 L74.75,89.06 L75.30,90.14 L75.85,91.22 L76.40,92.29 L76.95,93.36 L77.50,94.43 L78.06,95.49 L78.61,96.56 L79.16,97.61 L79.71,98.67 L80.26,99.72 L80.81,100.77 L81.36,101.81 L81.91,102.85 L82.46,103.89 L83.01,104.92 L83.56,105.95 L84.12,106.98 L84.67,108.00 L85.22,109.03 L85.77,110.04 L86.32,111.06 L86.87,112.07 L87.42,113.08 L87.97,114.09 L88.52,115.09 L89.07,116.09 L89.62,117.09 L90.17,118.08 L90.73,119.07 L91.28,120.06 L91.83,121.04 L92.38,122.02 L92.93,122.99 L93.48,123.97 L94.03,124.94 L94.58,125.90 L95.13,126.86 L95.68,127.82 L96.23,128.77 L96.79,129.72 L97.34,130.67 L97.89,131.61 L98.44,132.55 L98.99,133.48 L99.54,134.41 L100.09,135.34 L100.64,136.26 L101.19,137.17 L101.74,138.08 L102.29,138.99 L102.84,139.89 L103.40,140.79 L103.95,141.68 L104.50,142.56 L105.05,143.44 L105.60,144.32 L106.15,145.19 L106.70,146.05 L107.25,146.91 L107.80,147.76 L108.35,148.60 L108.90,149.44 L109.46,150.27 L110.01,151.10 L110.56,151.92 L111.11,152.74 L111.66,153.55 L112.21,154.35 L112.76,155.15 L113.31,155.94 L113.86,156.72 L114.41,157.50 L114.96,158.28 L115.51,159.04 L116.07,159.81 L116.62,160.56 L117.17,161.31 L117.72,162.05 L118.27,162.79 L118.82,163.52 L119.37,164.25 L119.92,164.97 L120.47,165.68 L121.02,166.39 L121.57,167.09 L122.13,167.78 L122.68,168.47 L123.23,169.15 L123.78,169.83 L124.33,170.50 L124.88,171.17 L125.43,171.83 L125.98,172.48 L126.53,173.12 L127.08,173.76 L127.63,174.40 L128.18,175.03 L128.74,175.65 L129.29,176.27 L129.84,176.88 L130.39,177.48 L130.94,178.08 L131.49,178.67 L132.04,179.26 L132.59,179.84 L133.14,180.41 L133.69,180.98 L134.24,181.54 L134.79,182.10 L135.35,182.65 L135.90,183.20 L136.45,183.74 L137.00,184.27 L137.55,184.80 L138.10,185.32 L138.65,185.84 L139.20,186.35 L139.75,186.85 L140.30,187.35 L140.85,187.84 L141.41,188.33 L141.96,188.81 L142.51,189.28 L143.06,189.75 L143.61,190.21 L144.16,190.66 L144.71,191.11 L145.26,191.56 L145.81,191.99 L146.36,192.42 L146.91,192.85 L147.46,193.26 L148.02,193.68 L148.57,194.08 L149.12,194.48 L149.67,194.87 L150.22,195.26 L150.77,195.64 L151.32,196.02 L151.87,196.39 L152.42,196.75 L152.97,197.11 L153.52,197.46 L154.08,197.81 L154.63,198.15 L155.18,198.48 L155.73,198.81 L156.28,199.13 L156.83,199.45 L157.38,199.76 L157.93,200.07 L158.48,200.37 L159.03,200.67 L159.58,200.96 L160.13,201.24 L160.69,201.52 L161.24,201.79 L161.79,202.06 L162.34,202.33 L162.89,202.58 L163.44,202.84 L163.99,203.09 L164.54,203.33 L165.09,203.57 L165.64,203.80 L166.19,204.03 L166.75,204.25 L167.30,204.47 L167.85,204.69 L168.40,204.90 L168.95,205.10 L169.50,205.30 L170.05,205.50 L170.60,205.69 L171.15,205.88 L171.70,206.06 L172.25,206.24 L172.80,206.41 L173.36,206.58 L173.91,206.75 L174.46,206.91 L175.01,207.07 L175.56,207.22 L176.11,207.37 L176.66,207.51 L177.21,207.65 L177.76,207.79 L178.31,207.93 L178.86,208.05 L179.42,208.18 L179.97,208.30 L180.52,208.42 L181.07,208.54 L181.62,208.65 L182.17,208.75 L182.72,208.86 L183.27,208.96 L183.82,209.05 L184.37,209.15 L184.92,209.24 L185.47,209.32 L186.03,209.41 L186.58,209.48 L187.13,209.56 L187.68,209.63 L188.23,209.70 L188.78,209.77 L189.33,209.83 L189.88,209.89 L190.43,209.94 L190.98,210.00 L191.53,210.05 L192.09,210.09 L192.64,210.14 L193.19,210.17 L193.74,210.21 L194.29,210.24 L194.84,210.27 L195.39,210.30 L195.94,210.32 L196.49,210.34 L197.04,210.36 L197.59,210.38 L198.14,210.39 L198.70,210.39 L199.25,210.40 L199.80,210.40 L200.35,210.40 L200.90,210.39 L201.45,210.38 L202.00,210.37 L202.55,210.36 L203.10,210.34 L203.65,210.32 L204.20,210.30 L204.76,210.27 L205.31,210.24 L205.86,210.20 L206.41,210.17 L206.96,210.13 L207.51,210.08 L208.06,210.04 L208.61,209.99 L209.16,209.94 L209.71,209.88 L210.26,209.82 L210.81,209.76 L211.37,209.70 L211.92,209.63 L212.47,209.56 L213.02,209.49 L213.57,209.41 L214.12,209.33 L214.67,209.25 L215.22,209.16 L215.77,209.07 L216.32,208.98 L216.87,208.89 L217.43,208.79 L217.98,208.69 L218.53,208.59 L219.08,208.49 L219.63,208.38 L220.18,208.27 L220.73,208.16 L221.28,208.04 L221.83,207.93 L222.38,207.81 L222.93,207.68 L223.48,207.56 L224.04,207.43 L224.59,207.30 L225.14,207.17 L225.69,207.04 L226.24,206.90 L226.79,206.76 L227.34,206.62 L227.89,206.48 L228.44,206.34 L228.99,206.19 L229.54,206.04 L230.09,205.89 L230.65,205.74 L231.20,205.58 L231.75,205.43 L232.30,205.27 L232.85,205.11 L233.40,204.95 L233.95,204.79 L234.50,204.62 L235.05,204.46 L235.60,204.29 L236.15,204.12 L236.71,203.95 L237.26,203.78 L237.81,203.60 L238.36,203.43 L238.91,203.25 L239.46,203.07 L240.01,202.89 L240.56,202.71 L241.11,202.53 L241.66,202.35 L242.21,202.16 L242.76,201.97 L243.32,201.79 L243.87,201.60 L244.42,201.41 L244.97,201.22 L245.52,201.03 L246.07,200.83 L246.62,200.64 L247.17,200.44 L247.72,200.25 L248.27,200.05 L248.82,199.85 L249.38,199.65 L249.93,199.45 L250.48,199.25 L251.03,199.05 L251.58,198.85 L252.13,198.65 L252.68,198.44 L253.23,198.24 L253.78,198.03 L254.33,197.82 L254.88,197.62 L255.43,197.41 L255.99,197.20 L256.54,196.99 L257.09,196.78 L257.64,196.57 L258.19,196.36 L258.74,196.15 L259.29,195.94 L259.84,195.73 L260.39,195.51 L260.94,195.30 L261.49,195.09 L262.05,194.87 L262.60,194.65 L263.15,194.44 L263.70,194.22 L264.25,194.00 L264.80,193.78 L265.35,193.57 L265.90,193.35 L266.45,193.12 L267.00,192.90 L267.55,192.68 L268.10,192.46 L268.66,192.24 L269.21,192.01 L269.76,191.79 L270.31,191.56 L270.86,191.33 L271.41,191.11 L271.96,190.88 L272.51,190.65 L273.06,190.42 L273.61,190.19 L274.16,189.96 L274.72,189.73 L275.27,189.50 L275.82,189.27 L276.37,189.03 L276.92,188.80 L277.47,188.56 L278.02,188.33 L278.57,188.09 L279.12,187.86 L279.67,187.62 L280.22,187.38 L280.77,187.14 L281.33,186.91 L281.88,186.67 L282.43,186.43 L282.98,186.19 L283.53,185.95 L284.08,185.70 L284.63,185.46 L285.18,185.22 L285.73,184.98 L286.28,184.74 L286.83,184.49 L287.39,184.25 L287.94,184.01 L288.49,183.76 L289.04,183.52 L289.59,183.27 L290.14,183.03 L290.69,182.78 L291.24,182.54 L291.79,182.29 L292.34,182.04 L292.89,181.80 L293.44,181.55 L294.00,181.30 L294.55,181.05 L295.10,180.81 L295.65,180.56 L296.20,180.31 L296.75,180.06 L297.30,179.82 L297.85,179.57 L298.40,179.32 L298.95,179.07 L299.50,178.82 L300.06,178.57 L300.61,178.32 L301.16,178.07 L301.71,177.83 L302.26,177.58 L302.81,177.33 L303.36,177.08 L303.91,176.83 L304.46,176.58 L305.01,176.33 L305.56,176.08 L306.11,175.83 L306.67,175.58 L307.22,175.34 L307.77,175.09 L308.32,174.84 L308.87,174.59 L309.42,174.34 L309.97,174.09 L310.52,173.84 L311.07,173.60 L311.62,173.35 L312.17,173.10 L312.73,172.85 L313.28,172.61 L313.83,172.36 L314.38,172.11 L314.93,171.87 L315.48,171.62 L316.03,171.37 L316.58,171.13 L317.13,170.88 L317.68,170.63 L318.23,170.39 L318.78,170.14 L319.34,169.89 L319.89,169.65 L320.44,169.40 L320.99,169.15 L321.54,168.90 L322.09,168.66 L322.64,168.41 L323.19,168.16 L323.74,167.91 L324.29,167.66 L324.84,167.41 L325.39,167.16 L325.95,166.91 L326.50,166.66 L327.05,166.41 L327.60,166.16 L328.15,165.91 L328.70,165.66 L329.25,165.40 L329.80,165.15 L330.35,164.90 L330.90,164.65 L331.45,164.39 L332.01,164.14 L332.56,163.88 L333.11,163.63 L333.66,163.37 L334.21,163.11 L334.76,162.86 L335.31,162.60 L335.86,162.34 L336.41,162.09 L336.96,161.83 L337.51,161.57 L338.06,161.31 L338.62,161.05 L339.17,160.79 L339.72,160.53 L340.27,160.27 L340.82,160.01 L341.37,159.75 L341.92,159.48 L342.47,159.22 L343.02,158.96 L343.57,158.69 L344.12,158.43 L344.68,158.16 L345.23,157.90 L345.78,157.63 L346.33,157.37 L346.88,157.10 L347.43,156.83 L347.98,156.56 L348.53,156.30 L349.08,156.03 L349.63,155.76 L350.18,155.49 L350.73,155.22 L351.29,154.95 L351.84,154.67 L352.39,154.40 L352.94,154.13 L353.49,153.86 L354.04,153.58 L354.59,153.31 L355.14,153.03 L355.69,152.76 L356.24,152.48 L356.79,152.20 L357.35,151.92 L357.90,151.65 L358.45,151.37 L359.00,151.09 L359.55,150.81 L360.10,150.53 L360.65,150.24 L361.20,149.96 L361.75,149.68 L362.30,149.40 L362.85,149.11 L363.40,148.83 L363.96,148.54 L364.51,148.25 L365.06,147.97 L365.61,147.68 L366.16,147.39 L366.71,147.10" stroke="#f00" stroke-width="1.3" stroke-dasharray="7.6 5.75" stroke-dashoffset="0"/>
<path d="M65.08,4.39 L65.58,5.94 L66.08,7.48 L66.59,9.02 L67.09,10.55 L67.60,12.08 L68.10,13.60 L68.60,15.11 L69.11,16.62 L69.61,18.12 L70.11,19.62 L70.62,21.11 L71.12,22.60 L71.62,24.08 L72.13,25.56 L72.63,27.03 L73.13,28.50 L73.64,29.96 L74.14,31.42 L74.65,32.87 L75.15,34.32 L75.65,35.77 L76.16,37.21 L76.66,38.65 L77.16,40.08 L77.67,41.51 L78.17,42.93 L78.67,44.35 L79.18,45.76 L79.68,47.17 L80.18,48.58 L80.69,49.98 L81.19,51.38 L81.69,52.77 L82.20,54.16 L82.70,55.54 L83.21,56.92 L83.71,58.29 L84.21,59.66 L84.72,61.02 L85.22,62.38 L85.72,63.73 L86.23,65.07 L86.73,66.41 L87.23,67.75 L87.74,69.08 L88.24,70.40 L88.74,71.72 L89.25,73.04 L89.75,74.34 L90.26,75.65 L90.76,76.95 L91.26,78.24 L91.77,79.53 L92.27,80.81 L92.77,82.09 L93.28,83.36 L93.78,84.63 L94.28,85.89 L94.79,87.15 L95.29,88.40 L95.79,89.65 L96.30,90.90 L96.80,92.13 L97.31,93.37 L97.81,94.59 L98.31,95.82 L98.82,97.04 L99.32,98.25 L99.82,99.46 L100.33,100.66 L100.83,101.86 L101.33,103.05 L101.84,104.23 L102.34,105.41 L102.84,106.59 L103.35,107.75 L103.85,108.92 L104.36,110.07 L104.86,111.22 L105.36,112.37 L105.87,113.50 L106.37,114.63 L106.87,115.76 L107.38,116.87 L107.88,117.99 L108.38,119.09 L108.89,120.19 L109.39,121.28 L109.89,122.36 L110.40,123.44 L110.90,124.51 L111.40,125.58 L111.91,126.63 L112.41,127.69 L112.92,128.73 L113.42,129.77 L113.92,130.80 L114.43,131.83 L114.93,132.85 L115.43,133.86 L115.94,134.86 L116.44,135.86 L116.94,136.86 L117.45,137.84 L117.95,138.82 L118.45,139.80 L118.96,140.76 L119.46,141.72 L119.97,142.68 L120.47,143.63 L120.97,144.57 L121.48,145.50 L121.98,146.43 L122.48,147.35 L122.99,148.27 L123.49,149.17 L123.99,150.08 L124.50,150.97 L125.00,151.86 L125.50,152.74 L126.01,153.62 L126.51,154.48 L127.02,155.35 L127.52,156.20 L128.02,157.05 L128.53,157.89 L129.03,158.73 L129.53,159.56 L130.04,160.38 L130.54,161.20 L131.04,162.00 L131.55,162.81 L132.05,163.60 L132.55,164.39 L133.06,165.17 L133.56,165.95 L134.07,166.72 L134.57,167.48 L135.07,168.24 L135.58,168.98 L136.08,169.73 L136.58,170.46 L137.09,171.19 L137.59,171.91 L138.09,172.63 L138.60,173.33 L139.10,174.03 L139.60,174.72 L140.11,175.41 L140.61,176.09 L141.12,176.76 L141.62,177.42 L142.12,178.08 L142.63,178.72 L143.13,179.36 L143.63,180.00 L144.14,180.62 L144.64,181.24 L145.14,181.85 L145.65,182.45 L146.15,183.04 L146.65,183.63 L147.16,184.21 L147.66,184.78 L148.16,185.34 L148.67,185.90 L149.17,186.45 L149.68,186.99 L150.18,187.52 L150.68,188.05 L151.19,188.57 L151.69,189.08 L152.19,189.58 L152.70,190.08 L153.20,190.57 L153.70,191.05 L154.21,191.52 L154.71,191.99 L155.21,192.45 L155.72,192.90 L156.22,193.35 L156.73,193.79 L157.23,194.22 L157.73,194.64 L158.24,195.06 L158.74,195.47 L159.24,195.88 L159.75,196.28 L160.25,196.67 L160.75,197.05 L161.26,197.43 L161.76,197.80 L162.26,198.16 L162.77,198.52 L163.27,198.87 L163.78,199.22 L164.28,199.55 L164.78,199.89 L165.29,200.21 L165.79,200.53 L166.29,200.85 L166.80,201.15 L167.30,201.46 L167.80,201.75 L168.31,202.04 L168.81,202.32 L169.31,202.60 L169.82,202.88 L170.32,203.14 L170.83,203.40 L171.33,203.66 L171.83,203.91 L172.34,204.15 L172.84,204.39 L173.34,204.63 L173.85,204.86 L174.35,205.08 L174.85,205.30 L175.36,205.51 L175.86,205.72 L176.36,205.92 L176.87,206.12 L177.37,206.31 L177.87,206.50 L178.38,206.69 L178.88,206.86 L179.39,207.04 L179.89,207.21 L180.39,207.37 L180.90,207.53 L181.40,207.69 L181.90,207.84 L182.41,207.98 L182.91,208.12 L183.41,208.26 L183.92,208.39 L184.42,208.52 L184.92,208.64 L185.43,208.76 L185.93,208.88 L186.44,208.99 L186.94,209.09 L187.44,209.20 L187.95,209.29 L188.45,209.39 L188.95,209.48 L189.46,209.56 L189.96,209.64 L190.46,209.72 L190.97,209.79 L191.47,209.86 L191.97,209.92 L192.48,209.98 L192.98,210.04 L193.49,210.09 L193.99,210.14 L194.49,210.18 L195.00,210.22 L195.50,210.26 L196.00,210.29 L196.51,210.32 L197.01,210.34 L197.51,210.36 L198.02,210.38 L198.52,210.39 L199.02,210.40 L199.53,210.40 L200.03,210.40 L200.54,210.40 L201.04,210.39 L201.54,210.37 L202.05,210.36 L202.55,210.34 L203.05,210.31 L203.56,210.29 L204.06,210.25 L204.56,210.22 L205.07,210.18 L205.57,210.13 L206.07,210.08 L206.58,210.03 L207.08,209.98 L207.58,209.92 L208.09,209.85 L208.59,209.78 L209.10,209.71 L209.60,209.64 L210.10,209.56 L210.61,209.47 L211.11,209.39 L211.61,209.30 L212.12,209.20 L212.62,209.10 L213.12,209.00 L213.63,208.89 L214.13,208.79 L214.63,208.67 L215.14,208.56 L215.64,208.44 L216.15,208.31 L216.65,208.18 L217.15,208.05 L217.66,207.92 L218.16,207.78 L218.66,207.64 L219.17,207.50 L219.67,207.35 L220.17,207.20 L220.68,207.04 L221.18,206.89 L221.68,206.73 L222.19,206.56 L222.69,206.40 L223.20,206.23 L223.70,206.06 L224.20,205.88 L224.71,205.70 L225.21,205.52 L225.71,205.34 L226.22,205.15 L226.72,204.96 L227.22,204.77 L227.73,204.58 L228.23,204.38 L228.73,204.18 L229.24,203.98 L229.74,203.77 L230.25,203.57 L230.75,203.36 L231.25,203.15 L231.76,202.93 L232.26,202.72 L232.76,202.50 L233.27,202.28 L233.77,202.06 L234.27,201.84 L234.78,201.61 L235.28,201.38 L235.78,201.16 L236.29,200.92 L236.79,200.69 L237.30,200.46 L237.80,200.22 L238.30,199.98 L238.81,199.74 L239.31,199.50 L239.81,199.26 L240.32,199.01 L240.82,198.77 L241.32,198.52 L241.83,198.27 L242.33,198.02 L242.83,197.76 L243.34,197.51 L243.84,197.26 L244.34,197.00 L244.85,196.74 L245.35,196.48 L245.86,196.22 L246.36,195.96 L246.86,195.69 L247.37,195.43 L247.87,195.16 L248.37,194.90 L248.88,194.63 L249.38,194.36 L249.88,194.09 L250.39,193.82 L250.89,193.55 L251.39,193.27 L251.90,193.00 L252.40,192.73 L252.91,192.45 L253.41,192.17 L253.91,191.90 L254.42,191.62 L254.92,191.34 L255.42,191.06 L255.93,190.78 L256.43,190.50 L256.93,190.21 L257.44,189.93 L257.94,189.65 L258.44,189.36 L258.95,189.07 L259.45,188.79 L259.96,188.50 L260.46,188.21 L260.96,187.92 L261.47,187.63 L261.97,187.34 L262.47,187.05 L262.98,186.76 L263.48,186.46 L263.98,186.17 L264.49,185.87 L264.99,185.58 L265.49,185.28 L266.00,184.98 L266.50,184.68 L267.01,184.38 L267.51,184.08 L268.01,183.78 L268.52,183.48 L269.02,183.17 L269.52,182.87 L270.03,182.56 L270.53,182.26 L271.03,181.95 L271.54,181.64 L272.04,181.33 L272.54,181.02 L273.05,180.71 L273.55,180.40 L274.05,180.09 L274.56,179.77 L275.06,179.46 L275.57,179.14 L276.07,178.83 L276.57,178.51 L277.08,178.19 L277.58,177.87 L278.08,177.56 L278.59,177.24 L279.09,176.92 L279.59,176.59 L280.10,176.27 L280.60,175.95 L281.10,175.63 L281.61,175.30 L282.11,174.98 L282.62,174.65 L283.12,174.33 L283.62,174.00 L284.13,173.68 L284.63,173.35 L285.13,173.02 L285.64,172.69 L286.14,172.36 L286.64,172.04 L287.15,171.71 L287.65,171.38 L288.15,171.05 L288.66,170.71 L289.16,170.38 L289.67,170.05 L290.17,169.72 L290.67,169.39 L291.18,169.05 L291.68,168.72 L292.18,168.39 L292.69,168.05 L293.19,167.72 L293.69,167.39 L294.20,167.05 L294.70,166.72 L295.20,166.38 L295.71,166.05 L296.21,165.71 L296.72,165.38 L297.22,165.04 L297.72,164.70 L298.23,164.37 L298.73,164.03 L299.23,163.70 L299.74,163.36 L300.24,163.02 L300.74,162.69 L301.25,162.35 L301.75,162.01 L302.25,161.68 L302.76,161.34 L303.26,161.00 L303.76,160.67 L304.27,160.33 L304.77,160.00 L305.28,159.66 L305.78,159.32 L306.28,158.99 L306.79,158.65 L307.29,158.32 L307.79,157.98 L308.30,157.65 L308.80,157.31 L309.30,156.97 L309.81,156.64 L310.31,156.31 L310.81,155.97 L311.32,155.64 L311.82,155.30 L312.33,154.97 L312.83,154.64 L313.33,154.30 L313.84,153.97 L314.34,153.64 L314.84,153.31 L315.35,152.97 L315.85,152.64 L316.35,152.31 L316.86,151.98 L317.36,151.65 L317.86,151.31 L318.37,150.98 L318.87,150.65 L319.38,150.32 L319.88,149.99 L320.38,149.65 L320.89,149.32 L321.39,148.99 L321.89,148.66 L322.40,148.32 L322.90,147.99 L323.40,147.66 L323.91,147.32 L324.41,146.99 L324.91,146.65 L325.42,146.32 L325.92,145.98 L326.43,145.65 L326.93,145.31 L327.43,144.97 L327.94,144.63 L328.44,144.30 L328.94,143.96 L329.45,143.62 L329.95,143.28 L330.45,142.94 L330.96,142.60 L331.46,142.26 L331.96,141.92 L332.47,141.58 L332.97,141.24 L333.48,140.90 L333.98,140.55 L334.48,140.21 L334.99,139.87 L335.49,139.52 L335.99,139.18 L336.50,138.83 L337.00,138.49 L337.50,138.14 L338.01,137.80 L338.51,137.45 L339.01,137.10 L339.52,136.75 L340.02,136.41 L340.52,136.06 L341.03,135.71 L341.53,135.36 L342.04,135.01 L342.54,134.66 L343.04,134.31 L343.55,133.95 L344.05,133.60 L344.55,133.25 L345.06,132.90 L345.56,132.54 L346.06,132.19 L346.57,131.83 L347.07,131.48 L347.57,131.12 L348.08,130.76 L348.58,130.41 L349.09,130.05 L349.59,129.69 L350.09,129.33 L350.60,128.97 L351.10,128.61 L351.60,128.25 L352.11,127.89 L352.61,127.53 L353.11,127.17 L353.62,126.80 L354.12,126.44 L354.62,126.07 L355.13,125.71 L355.63,125.34 L356.14,124.98 L356.64,124.61 L357.14,124.24 L357.65,123.87 L358.15,123.51 L358.65,123.14 L359.16,122.77 L359.66,122.39 L360.16,122.02 L360.67,121.65 L361.17,121.28 L361.67,120.90 L362.18,120.53 L362.68,120.15 L363.19,119.78 L363.69,119.40 L364.19,119.02 L364.70,118.65 L365.20,118.27 L365.70,117.89 L366.21,117.51 L366.71,117.12" stroke="#00f" stroke-width="1.3" stroke-dasharray="5.6 1.3 1.4 1.3" stroke-dashoffset="0"/>
<path d="M64.58,4.39 L65.09,5.94 L65.59,7.48 L66.10,9.01 L66.60,10.54 L67.11,12.06 L67.61,13.58 L68.11,15.09 L68.62,16.59 L69.12,18.09 L69.63,19.59 L70.13,21.08 L70.64,22.56 L71.14,24.04 L71.64,25.51 L72.15,26.98 L72.65,28.45 L73.16,29.90 L73.66,31.36 L74.17,32.81 L74.67,34.25 L75.18,35.69 L75.68,37.13 L76.18,38.56 L76.69,39.99 L77.19,41.41 L77.70,42.83 L78.20,44.25 L78.71,45.66 L79.21,47.07 L79.71,48.47 L80.22,49.87 L80.72,51.26 L81.23,52.65 L81.73,54.03 L82.24,55.41 L82.74,56.78 L83.25,58.15 L83.75,59.52 L84.25,60.88 L84.76,62.23 L85.26,63.58 L85.77,64.92 L86.27,66.26 L86.78,67.59 L87.28,68.92 L87.78,70.24 L88.29,71.56 L88.79,72.87 L89.30,74.17 L89.80,75.47 L90.31,76.77 L90.81,78.06 L91.32,79.35 L91.82,80.63 L92.32,81.90 L92.83,83.17 L93.33,84.44 L93.84,85.70 L94.34,86.95 L94.85,88.20 L95.35,89.45 L95.85,90.69 L96.36,91.92 L96.86,93.15 L97.37,94.38 L97.87,95.60 L98.38,96.82 L98.88,98.03 L99.39,99.23 L99.89,100.43 L100.39,101.63 L100.90,102.81 L101.40,104.00 L101.91,105.18 L102.41,106.35 L102.92,107.52 L103.42,108.68 L103.93,109.83 L104.43,110.98 L104.93,112.12 L105.44,113.26 L105.94,114.39 L106.45,115.51 L106.95,116.63 L107.46,117.74 L107.96,118.84 L108.46,119.94 L108.97,121.03 L109.47,122.11 L109.98,123.19 L110.48,124.26 L110.99,125.32 L111.49,126.38 L112.00,127.43 L112.50,128.47 L113.00,129.51 L113.51,130.54 L114.01,131.57 L114.52,132.59 L115.02,133.60 L115.53,134.61 L116.03,135.60 L116.53,136.60 L117.04,137.58 L117.54,138.56 L118.05,139.54 L118.55,140.50 L119.06,141.46 L119.56,142.42 L120.07,143.36 L120.57,144.30 L121.07,145.24 L121.58,146.17 L122.08,147.09 L122.59,148.00 L123.09,148.91 L123.60,149.81 L124.10,150.71 L124.60,151.60 L125.11,152.48 L125.61,153.35 L126.12,154.22 L126.62,155.08 L127.13,155.94 L127.63,156.79 L128.14,157.63 L128.64,158.47 L129.14,159.30 L129.65,160.12 L130.15,160.94 L130.66,161.75 L131.16,162.55 L131.67,163.34 L132.17,164.13 L132.68,164.92 L133.18,165.69 L133.68,166.46 L134.19,167.22 L134.69,167.98 L135.20,168.73 L135.70,169.47 L136.21,170.21 L136.71,170.94 L137.21,171.66 L137.72,172.37 L138.22,173.08 L138.73,173.78 L139.23,174.47 L139.74,175.16 L140.24,175.84 L140.75,176.51 L141.25,177.17 L141.75,177.83 L142.26,178.47 L142.76,179.11 L143.27,179.75 L143.77,180.37 L144.28,180.99 L144.78,181.60 L145.28,182.20 L145.79,182.80 L146.29,183.39 L146.80,183.97 L147.30,184.54 L147.81,185.10 L148.31,185.66 L148.82,186.21 L149.32,186.75 L149.82,187.29 L150.33,187.81 L150.83,188.33 L151.34,188.85 L151.84,189.35 L152.35,189.85 L152.85,190.34 L153.35,190.82 L153.86,191.30 L154.36,191.77 L154.87,192.23 L155.37,192.68 L155.88,193.13 L156.38,193.57 L156.89,194.01 L157.39,194.43 L157.89,194.85 L158.40,195.27 L158.90,195.67 L159.41,196.07 L159.91,196.46 L160.42,196.85 L160.92,197.23 L161.43,197.60 L161.93,197.97 L162.43,198.33 L162.94,198.68 L163.44,199.03 L163.95,199.37 L164.45,199.71 L164.96,200.04 L165.46,200.36 L165.96,200.67 L166.47,200.98 L166.97,201.29 L167.48,201.59 L167.98,201.88 L168.49,202.17 L168.99,202.45 L169.50,202.72 L170.00,202.99 L170.50,203.26 L171.01,203.51 L171.51,203.77 L172.02,204.01 L172.52,204.26 L173.03,204.49 L173.53,204.72 L174.03,204.95 L174.54,205.17 L175.04,205.39 L175.55,205.60 L176.05,205.80 L176.56,206.00 L177.06,206.20 L177.57,206.39 L178.07,206.58 L178.57,206.76 L179.08,206.93 L179.58,207.11 L180.09,207.27 L180.59,207.44 L181.10,207.59 L181.60,207.75 L182.10,207.89 L182.61,208.04 L183.11,208.18 L183.62,208.31 L184.12,208.44 L184.63,208.57 L185.13,208.69 L185.64,208.81 L186.14,208.92 L186.64,209.03 L187.15,209.13 L187.65,209.23 L188.16,209.33 L188.66,209.42 L189.17,209.51 L189.67,209.59 L190.18,209.67 L190.68,209.75 L191.18,209.82 L191.69,209.88 L192.19,209.95 L192.70,210.01 L193.20,210.06 L193.71,210.11 L194.21,210.16 L194.71,210.20 L195.22,210.24 L195.72,210.27 L196.23,210.30 L196.73,210.33 L197.24,210.35 L197.74,210.37 L198.25,210.38 L198.75,210.39 L199.25,210.40 L199.76,210.40 L200.26,210.40 L200.77,210.39 L201.27,210.38 L201.78,210.37 L202.28,210.35 L202.78,210.33 L203.29,210.30 L203.79,210.27 L204.30,210.23 L204.80,210.20 L205.31,210.15 L205.81,210.11 L206.32,210.06 L206.82,210.00 L207.32,209.94 L207.83,209.88 L208.33,209.81 L208.84,209.74 L209.34,209.67 L209.85,209.59 L210.35,209.51 L210.85,209.42 L211.36,209.33 L211.86,209.24 L212.37,209.14 L212.87,209.04 L213.38,208.93 L213.88,208.83 L214.39,208.71 L214.89,208.60 L215.39,208.48 L215.90,208.35 L216.40,208.22 L216.91,208.09 L217.41,207.96 L217.92,207.82 L218.42,207.68 L218.93,207.53 L219.43,207.39 L219.93,207.23 L220.44,207.08 L220.94,206.92 L221.45,206.76 L221.95,206.59 L222.46,206.43 L222.96,206.26 L223.46,206.08 L223.97,205.90 L224.47,205.72 L224.98,205.54 L225.48,205.35 L225.99,205.16 L226.49,204.97 L227.00,204.78 L227.50,204.58 L228.00,204.38 L228.51,204.18 L229.01,203.97 L229.52,203.77 L230.02,203.56 L230.53,203.34 L231.03,203.13 L231.53,202.91 L232.04,202.69 L232.54,202.47 L233.05,202.25 L233.55,202.02 L234.06,201.80 L234.56,201.57 L235.07,201.33 L235.57,201.10 L236.07,200.86 L236.58,200.63 L237.08,200.39 L237.59,200.14 L238.09,199.90 L238.60,199.65 L239.10,199.41 L239.60,199.16 L240.11,198.91 L240.61,198.65 L241.12,198.40 L241.62,198.14 L242.13,197.89 L242.63,197.63 L243.14,197.37 L243.64,197.10 L244.14,196.84 L244.65,196.57 L245.15,196.31 L245.66,196.04 L246.16,195.77 L246.67,195.50 L247.17,195.23 L247.68,194.95 L248.18,194.68 L248.68,194.40 L249.19,194.12 L249.69,193.84 L250.20,193.56 L250.70,193.28 L251.21,193.00 L251.71,192.72 L252.21,192.44 L252.72,192.15 L253.22,191.87 L253.73,191.58 L254.23,191.29 L254.74,191.00 L255.24,190.71 L255.75,190.42 L256.25,190.13 L256.75,189.84 L257.26,189.55 L257.76,189.26 L258.27,188.96 L258.77,188.67 L259.28,188.37 L259.78,188.07 L260.28,187.78 L260.79,187.48 L261.29,187.18 L261.80,186.88 L262.30,186.58 L262.81,186.28 L263.31,185.97 L263.82,185.67 L264.32,185.37 L264.82,185.06 L265.33,184.76 L265.83,184.45 L266.34,184.14 L266.84,183.83 L267.35,183.53 L267.85,183.22 L268.35,182.90 L268.86,182.59 L269.36,182.28 L269.87,181.97 L270.37,181.65 L270.88,181.34 L271.38,181.02 L271.89,180.70 L272.39,180.38 L272.89,180.06 L273.40,179.74 L273.90,179.42 L274.41,179.10 L274.91,178.78 L275.42,178.45 L275.92,178.13 L276.42,177.80 L276.93,177.48 L277.43,177.15 L277.94,176.82 L278.44,176.49 L278.95,176.16 L279.45,175.83 L279.96,175.50 L280.46,175.17 L280.96,174.84 L281.47,174.51 L281.97,174.17 L282.48,173.84 L282.98,173.51 L283.49,173.17 L283.99,172.84 L284.50,172.50 L285.00,172.16 L285.50,171.83 L286.01,171.49 L286.51,171.15 L287.02,170.81 L287.52,170.47 L288.03,170.13 L288.53,169.79 L289.03,169.45 L289.54,169.11 L290.04,168.77 L290.55,168.43 L291.05,168.09 L291.56,167.74 L292.06,167.40 L292.57,167.06 L293.07,166.71 L293.57,166.37 L294.08,166.03 L294.58,165.68 L295.09,165.34 L295.59,164.99 L296.10,164.65 L296.60,164.30 L297.10,163.96 L297.61,163.61 L298.11,163.27 L298.62,162.92 L299.12,162.58 L299.63,162.23 L300.13,161.88 L300.64,161.54 L301.14,161.19 L301.64,160.85 L302.15,160.50 L302.65,160.15 L303.16,159.81 L303.66,159.46 L304.17,159.12 L304.67,158.77 L305.17,158.43 L305.68,158.08 L306.18,157.73 L306.69,157.39 L307.19,157.04 L307.70,156.70 L308.20,156.35 L308.71,156.01 L309.21,155.66 L309.71,155.32 L310.22,154.98 L310.72,154.63 L311.23,154.29 L311.73,153.95 L312.24,153.60 L312.74,153.26 L313.25,152.92 L313.75,152.57 L314.25,152.23 L314.76,151.89 L315.26,151.55 L315.77,151.21 L316.27,150.87 L316.78,150.53 L317.28,150.18 L317.78,149.84 L318.29,149.50 L318.79,149.16 L319.30,148.82 L319.80,148.48 L320.31,148.14 L320.81,147.79 L321.32,147.45 L321.82,147.11 L322.32,146.77 L322.83,146.42 L323.33,146.08 L323.84,145.74 L324.34,145.39 L324.85,145.05 L325.35,144.70 L325.85,144.36 L326.36,144.01 L326.86,143.67 L327.37,143.32 L327.87,142.97 L328.38,142.63 L328.88,142.28 L329.39,141.93 L329.89,141.58 L330.39,141.23 L330.90,140.88 L331.40,140.53 L331.91,140.18 L332.41,139.83 L332.92,139.48 L333.42,139.13 L333.92,138.78 L334.43,138.42 L334.93,138.07 L335.44,137.72 L335.94,137.36 L336.45,137.01 L336.95,136.65 L337.46,136.30 L337.96,135.94 L338.46,135.59 L338.97,135.23 L339.47,134.87 L339.98,134.51 L340.48,134.15 L340.99,133.80 L341.49,133.44 L342.00,133.08 L342.50,132.72 L343.00,132.35 L343.51,131.99 L344.01,131.63 L344.52,131.27 L345.02,130.90 L345.53,130.54 L346.03,130.18 L346.53,129.81 L347.04,129.45 L347.54,129.08 L348.05,128.71 L348.55,128.35 L349.06,127.98 L349.56,127.61 L350.07,127.24 L350.57,126.87 L351.07,126.50 L351.58,126.13 L352.08,125.76 L352.59,125.39 L353.09,125.01 L353.60,124.64 L354.10,124.27 L354.60,123.89 L355.11,123.52 L355.61,123.14 L356.12,122.76 L356.62,122.39 L357.13,122.01 L357.63,121.63 L358.14,121.25 L358.64,120.87 L359.14,120.49 L359.65,120.11 L360.15,119.73 L360.66,119.35 L361.16,118.96 L361.67,118.58 L362.17,118.19 L362.67,117.81 L363.18,117.42 L363.68,117.03 L364.19,116.65 L364.69,116.26 L365.20,115.87 L365.70,115.48 L366.21,115.09 L366.71,114.69" stroke="#f00" stroke-width="1.3" stroke-dasharray="5.6 1.3 1.4 1.3" stroke-dashoffset="0"/>
<path d="M26.6,210.70h4.3M373.4,210.70h-4.3M26.6,200.89h2.9M373.4,200.89h-2.9M26.6,191.08h2.9M373.4,191.08h-2.9M26.6,181.27h2.9M373.4,181.27h-2.9M26.6,171.46h4.3M373.4,171.46h-4.3M26.6,161.65h2.9M373.4,161.65h-2.9M26.6,151.84h2.9M373.4,151.84h-2.9M26.6,142.03h2.9M373.4,142.03h-2.9M26.6,132.22h4.3M373.4,132.22h-4.3M26.6,122.41h2.9M373.4,122.41h-2.9M26.6,112.60h2.9M373.4,112.60h-2.9M26.6,102.79h2.9M373.4,102.79h-2.9M26.6,92.98h4.3M373.4,92.98h-4.3M26.6,83.17h2.9M373.4,83.17h-2.9M26.6,73.36h2.9M373.4,73.36h-2.9M26.6,63.55h2.9M373.4,63.55h-2.9M26.6,53.74h4.3M373.4,53.74h-4.3M26.6,43.93h2.9M373.4,43.93h-2.9M26.6,34.12h2.9M373.4,34.12h-2.9M26.6,24.31h2.9M373.4,24.31h-2.9M26.6,14.50h4.3M373.4,14.50h-4.3M26.6,4.69h2.9M373.4,4.69h-2.9M33.41,214.9v-2.9M33.41,0.3v2.9M50.08,214.9v-2.9M50.08,0.3v2.9M66.74,214.9v-4.3M66.74,0.3v4.3M83.41,214.9v-2.9M83.41,0.3v2.9M100.07,214.9v-2.9M100.07,0.3v2.9M116.74,214.9v-2.9M116.74,0.3v2.9M133.40,214.9v-4.3M133.40,0.3v4.3M150.06,214.9v-2.9M150.06,0.3v2.9M166.73,214.9v-2.9M166.73,0.3v2.9M183.40,214.9v-2.9M183.40,0.3v2.9M200.06,214.9v-4.3M200.06,0.3v4.3M216.72,214.9v-2.9M216.72,0.3v2.9M233.39,214.9v-2.9M233.39,0.3v2.9M250.06,214.9v-2.9M250.06,0.3v2.9M266.72,214.9v-4.3M266.72,0.3v4.3M283.38,214.9v-2.9M283.38,0.3v2.9M300.05,214.9v-2.9M300.05,0.3v2.9M316.72,214.9v-2.9M316.72,0.3v2.9M333.38,214.9v-4.3M333.38,0.3v4.3M350.04,214.9v-2.9M350.04,0.3v2.9M366.71,214.9v-2.9M366.71,0.3v2.9" stroke="#000" stroke-width="0.6"/>
<rect x="26.6" y="0.3" width="346.79999999999995" height="214.6" stroke="#000" stroke-width="1.3"/>
</svg>
<div class="t" style="right:351.5px;top:201.3px">0.0</div>
<div class="t" style="right:351.5px;top:162.1px">0.2</div>
<div class="t" style="right:351.5px;top:122.8px">0.4</div>
<div class="t" style="right:351.5px;top:83.6px">0.6</div>
<div class="t" style="right:351.5px;top:44.3px">0.8</div>
<div class="t" style="right:351.5px;top:5.1px">1.0</div>
<div class="t" style="left:36.7px;width:60px;text-align:center;top:218.3px">-2</div>
<div class="t" style="left:103.4px;width:60px;text-align:center;top:218.3px">0</div>
<div class="t" style="left:170.1px;width:60px;text-align:center;top:218.3px">2</div>
<div class="t" style="left:236.7px;width:60px;text-align:center;top:218.3px">4</div>
<div class="t" style="left:303.4px;width:60px;text-align:center;top:218.3px">6</div>
<div class="t" style="left:165.0px;width:60px;text-align:center;top:235.4px;font-style:italic;font-size:23px;line-height:23px">V</div>
</body></html>
